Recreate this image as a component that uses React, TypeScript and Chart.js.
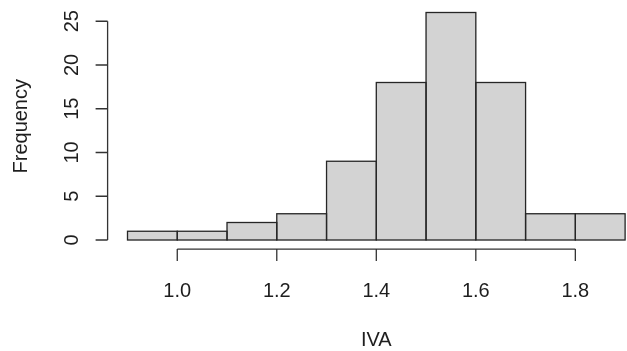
import React, { useEffect, useRef } from "react";
import { Chart, registerables } from "chart.js";

Chart.register(...registerables);

// Histogram data (bins of width 0.1 from 0.9 to 1.9)
const binCenters = [0.95, 1.05, 1.15, 1.25, 1.35, 1.45, 1.55, 1.65, 1.75, 1.85];
const counts = [1, 1, 2, 3, 9, 18, 26, 18, 3, 3];
const xTicks = [1.0, 1.2, 1.4, 1.6, 1.8];
const xTickLabels = ["1.0", "1.2", "1.4", "1.6", "1.8"];
const yTicks = [0, 5, 10, 15, 20, 25];
const yTickLabels = ["0", "5", "10", "15", "20", "25"];
const xTitle = "IVA";
const yTitle = "Frequency";

const FONT = '20px "Liberation Sans", Arial, sans-serif';
const INK = "#1e1e1e";

const rAxesPlugin = {
  id: "rAxes",
  afterDatasetsDraw(chart: any) {
    const ctx = chart.ctx;
    const meta = chart.getDatasetMeta(0);
    ctx.save();
    ctx.strokeStyle = "#262626";
    ctx.lineWidth = 1.3;
    meta.data.forEach((el: any) => {
      const p = el.getProps(["x", "y", "base", "width"], true);
      const l = p.x - p.width / 2;
      ctx.strokeRect(l, p.y, p.width, p.base - p.y);
    });
    ctx.restore();
  },
  afterDraw(chart: any) {
    const ctx = chart.ctx;
    const xs = chart.scales.x;
    const ys = chart.scales.y;
    const area = chart.chartArea;
    const tick = 12;
    ctx.save();
    ctx.strokeStyle = "#333";
    ctx.lineWidth = 1.3;
    ctx.fillStyle = INK;
    ctx.font = FONT;

    // Y axis
    const ax = area.left;
    ctx.beginPath();
    ctx.moveTo(ax, ys.getPixelForValue(yTicks[0]));
    ctx.lineTo(ax, ys.getPixelForValue(yTicks[yTicks.length - 1]));
    yTicks.forEach((v) => {
      const py = ys.getPixelForValue(v);
      ctx.moveTo(ax, py);
      ctx.lineTo(ax - tick, py);
    });
    ctx.stroke();
    ctx.textAlign = "center";
    ctx.textBaseline = "alphabetic";
    yTicks.forEach((v, i) => {
      const py = ys.getPixelForValue(v);
      ctx.save();
      ctx.translate(ax - 29.3, py);
      ctx.rotate(-Math.PI / 2);
      ctx.fillText(yTickLabels[i], 0, 0);
      ctx.restore();
    });

    // X axis
    const ay = area.bottom;
    ctx.beginPath();
    ctx.moveTo(xs.getPixelForValue(xTicks[0]), ay);
    ctx.lineTo(xs.getPixelForValue(xTicks[xTicks.length - 1]), ay);
    xTicks.forEach((v) => {
      const px = xs.getPixelForValue(v);
      ctx.moveTo(px, ay);
      ctx.lineTo(px, ay + tick);
    });
    ctx.stroke();
    xTicks.forEach((v, i) => {
      const px = xs.getPixelForValue(v);
      ctx.fillText(xTickLabels[i], px, ay + 47.6);
    });

    // Titles
    ctx.fillText(xTitle, (area.left + area.right) / 2, ay + 97);
    ctx.save();
    ctx.translate(26.5, (area.top + area.bottom) / 2);
    ctx.rotate(-Math.PI / 2);
    ctx.fillText(yTitle, 0, 0);
    ctx.restore();

    ctx.restore();
  },
};

export default function App() {
  const ref = useRef<HTMLCanvasElement | null>(null);

  useEffect(() => {
    document.body.style.margin = "0";
    const canvas = ref.current;
    if (!canvas) return;
    const chart = new Chart(canvas, {
      type: "bar",
      data: {
        datasets: [
          {
            data: binCenters.map((x, i) => ({ x, y: counts[i] })),
            backgroundColor: "#d3d3d3",
            borderWidth: 0,
            barPercentage: 1,
            categoryPercentage: 1,
          },
        ],
      },
      options: {
        animation: false,
        responsive: false,
        maintainAspectRatio: false,
        devicePixelRatio: 1,
        layout: {
          padding: { left: 107.6, right: 35, top: 3.4, bottom: 101.9 },
        },
        plugins: {
          legend: { display: false },
          tooltip: { enabled: false },
        },
        scales: {
          x: {
            type: "linear",
            min: 0.86,
            max: 1.94,
            offset: false,
            grid: { offset: false },
            display: false,
          },
          y: { type: "linear", min: -1.04, max: 27.04, display: false },
        },
      },
      plugins: [rAxesPlugin],
    });
    return () => chart.destroy();
  }, []);

  return (
    <div
      style={{
        position: "fixed",
        left: 0,
        top: 0,
        width: 627,
        height: 351,
        overflow: "hidden",
        background: "#fff",
      }}
    >
      <canvas ref={ref} width={680} height={351} style={{ display: "block" }} />
    </div>
  );
}
